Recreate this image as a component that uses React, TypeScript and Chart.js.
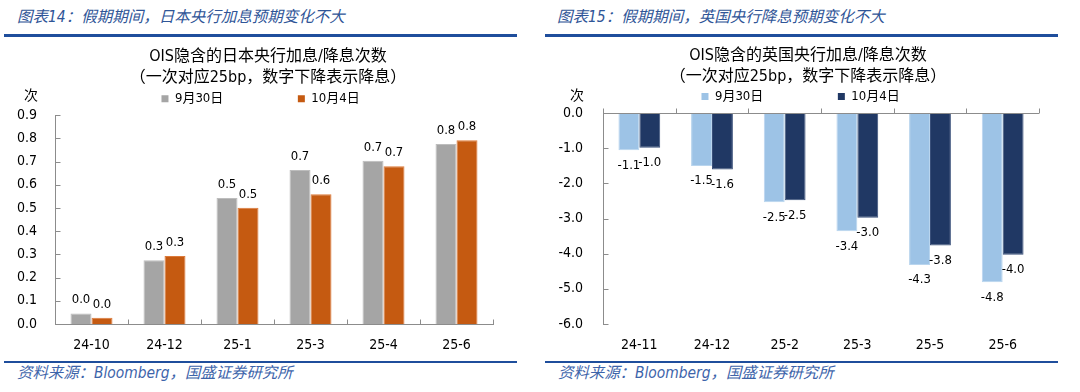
import React, { useEffect, useRef } from "react";
import { Chart, registerables } from "chart.js";

Chart.register(...registerables);

// ---------------- Data ----------------
const jpCategories = ["24-10", "24-12", "25-1", "25-3", "25-4", "25-6"];
const jpSep30 = [0.045, 0.275, 0.543, 0.664, 0.704, 0.776];
const jpOct4 = [0.027, 0.293, 0.501, 0.559, 0.68, 0.792];
const jpAxisMin = 0;
const jpAxisMax = 0.9;
const jpAxisStep = 0.1;

const ukCategories = ["24-11", "24-12", "25-2", "25-3", "25-5", "25-6"];
const ukSep30 = [-1.06, -1.51, -2.54, -3.36, -4.32, -4.81];
const ukOct4 = [-0.99, -1.61, -2.48, -2.98, -3.77, -4.03];
const ukAxisMin = -6;
const ukAxisMax = 0;
const ukAxisStep = 1;

const seriesNames = ["9月30日", "10月4日"];
const unitLabel = "次";

const jpHeader = "图表14：假期期间，日本央行加息预期变化不大";
const ukHeader = "图表15：假期期间，英国央行降息预期变化不大";
const jpTitle = "OIS隐含的日本央行加息/降息次数";
const ukTitle = "OIS隐含的英国央行加息/降息次数";
const subTitle = "（一次对应25bp，数字下降表示降息）";
const sourceText = "资料来源：Bloomberg，国盛证券研究所";

// ---------------- Styles ----------------
const FONT = '"DejaVu Sans Condensed", "DejaVu Sans", "Noto Sans CJK SC", sans-serif';
const CJK = '"Noto Sans CJK SC", sans-serif';
const HEADER_BLUE = "#2F5597";
const LINE_BLUE = "#1F4E9C";
const AXIS = "#8C8C8C";
const legendTrail = [" ".repeat(19), " ".repeat(4)];

const valueLabelPlugin = {
  id: "valueLabels",
  afterDatasetsDraw(chart: any, _args: any, opts: any) {
    const ctx = chart.ctx;
    ctx.save();
    ctx.font = `${opts.size}px ${FONT}`;
    ctx.fillStyle = opts.color;
    ctx.textAlign = "center";
    ctx.textBaseline = "middle";
    chart.data.datasets.forEach((ds: any, di: number) => {
      const meta = chart.getDatasetMeta(di);
      meta.data.forEach((el: any, i: number) => {
        const v = ds.data[i] as number;
        const y = v >= 0 ? el.y - opts.gap : el.y + opts.gap;
        ctx.fillText(v.toFixed(1), el.x, y);
      });
    });
    ctx.restore();
  },
};

const axisMarksPlugin = {
  id: "axisMarks",
  afterDraw(chart: any, _args: any, opts: any) {
    const ctx = chart.ctx;
    const a = chart.chartArea;
    const x = chart.scales.x;
    const y = chart.scales.y;
    ctx.save();
    ctx.strokeStyle = opts.color;
    ctx.lineWidth = 1;
    ctx.beginPath();
    const L = opts.len;
    const ax = Math.round(a.left) + 0.5;
    y.ticks.forEach((_t: any, i: number) => {
      const py = Math.round(y.getPixelForTick(i)) + 0.5;
      ctx.moveTo(ax, py);
      ctx.lineTo(ax + L, py);
    });
    const baseY = Math.round(y.getPixelForValue(opts.baseValue)) + 0.5;
    const n = x.ticks.length;
    for (let i = 0; i <= n; i++) {
      const px = Math.round(x.left + ((x.right - x.left) * i) / n) + 0.5;
      ctx.moveTo(px, baseY);
      ctx.lineTo(px, baseY - L);
    }
    if (opts.drawBaseLine) {
      ctx.moveTo(a.left, baseY);
      ctx.lineTo(a.right, baseY);
    }
    ctx.stroke();
    ctx.fillStyle = "#000";
    ctx.font = `14px ${CJK}`;
    ctx.textAlign = "right";
    ctx.textBaseline = "middle";
    ctx.fillText(opts.unit, a.left - opts.unitPad, a.top - opts.unitRise);
    ctx.restore();
  },
};

type PanelSpec = {
  categories: string[];
  a: number[];
  b: number[];
  colorsA: [string, string];
  colorsB: [string, string];
  title: string;
  min: number;
  max: number;
  step: number;
  padLeft: number;
  padRight: number;
  yWidth: number;
  y2Width: number;
  yPad: number;
  titleTop: number;
  subTop: number;
  subBottom: number;
  negative: boolean;
};

function makeConfig(s: PanelSpec): any {
  const tickFont = { family: FONT, size: 14 };
  return {
    type: "bar",
    data: {
      labels: s.categories,
      datasets: [
        {
          label: seriesNames[0],
          data: s.a,
          backgroundColor: s.colorsA[0],
          borderColor: s.colorsA[1],
          borderWidth: 1,
          barPercentage: 1,
          categoryPercentage: 0.575,
        },
        {
          label: seriesNames[1],
          data: s.b,
          backgroundColor: s.colorsB[0],
          borderColor: s.colorsB[1],
          borderWidth: 1,
          barPercentage: 1,
          categoryPercentage: 0.575,
        },
      ],
    },
    options: {
      responsive: false,
      animation: false,
      devicePixelRatio: 1,
      layout: { padding: { left: s.padLeft, right: s.padRight, top: 0, bottom: 0 } },
      plugins: {
        title: {
          display: true,
          text: s.title,
          color: "#000",
          font: { family: FONT, size: 16, weight: "normal" },
          padding: { top: s.titleTop, bottom: 0 },
        },
        subtitle: {
          display: true,
          text: subTitle,
          color: "#000",
          font: { family: FONT, size: 16, weight: "normal" },
          padding: { top: s.subTop, bottom: s.subBottom },
        },
        legend: {
          display: true,
          position: "top",
          labels: {
            boxWidth: 7,
            boxHeight: 7,
            padding: 4,
            color: "#000",
            font: { family: FONT, size: 13 },
            generateLabels(chart: any) {
              const items = (Chart.defaults as any).plugins.legend.labels.generateLabels(chart);
              return items.map((it: any, i: number) => ({
                ...it,
                text: it.text + legendTrail[i],
                lineWidth: 0,
              }));
            },
          },
        },
        tooltip: { enabled: false },
        valueLabels: { size: 13, color: "#000", gap: s.negative ? 15 : 13.5 },
        axisMarks: {
          color: AXIS,
          len: 5,
          baseValue: 0,
          drawBaseLine: s.negative,
          unit: unitLabel,
          unitPad: s.yPad - 1,
          unitRise: s.negative ? 18.5 : 21,
        },
      },
      scales: {
        x: {
          grid: { display: false, drawTicks: false },
          border: { display: !s.negative, color: AXIS, width: 1 },
          ticks: { font: tickFont, color: "#000", padding: 12.6, maxRotation: 0, autoSkip: false },
        },
        y: {
          min: s.min,
          max: s.max,
          grid: { display: false, drawTicks: false },
          border: { display: true, color: AXIS, width: 1 },
          ticks: {
            stepSize: s.step,
            font: tickFont,
            color: "#000",
            padding: s.yPad,
            callback: (v: any) => Number(v).toFixed(1),
          },
          afterFit: (scale: any) => {
            scale.width = s.yWidth;
          },
        },
        y2: {
          position: "right",
          display: true,
          grid: { display: false, drawTicks: false },
          border: { display: false },
          ticks: { display: false },
          afterFit: (scale: any) => {
            scale.width = s.y2Width;
          },
        },
      },
    },
    plugins: [valueLabelPlugin, axisMarksPlugin],
  };
}

function ChartCanvas({ left, spec }: { left: number; spec: PanelSpec }) {
  const ref = useRef<HTMLCanvasElement>(null);
  useEffect(() => {
    const chart = new Chart(ref.current as HTMLCanvasElement, makeConfig(spec));
    return () => chart.destroy();
  }, []);
  return (
    <canvas
      ref={ref}
      width={540}
      height={326}
      style={{ position: "absolute", left, top: 40, width: 540, height: 326 }}
    />
  );
}

const jpSpec: PanelSpec = {
  categories: jpCategories,
  a: jpSep30,
  b: jpOct4,
  colorsA: ["#A5A5A5", "#BDBDBD"],
  colorsB: ["#C55A11", "#DD7A3A"],
  title: jpTitle,
  min: jpAxisMin,
  max: jpAxisMax,
  step: jpAxisStep,
  padLeft: 15,
  padRight: 19,
  yWidth: 40,
  y2Width: 28,
  yPad: 18,
  titleTop: 7.1,
  subTop: 1.9,
  subBottom: 0.8,
  negative: false,
};

const ukSpec: PanelSpec = {
  categories: ukCategories,
  a: ukSep30,
  b: ukOct4,
  colorsA: ["#9DC3E6", "#B9D5EE"],
  colorsB: ["#203864", "#3A507A"],
  title: ukTitle,
  min: ukAxisMin,
  max: ukAxisMax,
  step: ukAxisStep,
  padLeft: 15,
  padRight: 19,
  yWidth: 48,
  y2Width: 22,
  yPad: 20,
  titleTop: 6.1,
  subTop: 1.5,
  subBottom: 0,
  negative: true,
};

const headerStyle: React.CSSProperties = {
  position: "absolute",
  top: 6.5,
  fontSize: 15.5,
  lineHeight: "20px",
  fontStyle: "italic",
  fontFamily: FONT,
  color: HEADER_BLUE,
  whiteSpace: "nowrap",
};

const sourceStyle: React.CSSProperties = {
  position: "absolute",
  top: 362.5,
  fontSize: 15.4,
  lineHeight: "20px",
  fontStyle: "italic",
  fontFamily: FONT,
  color: "#3D64AA",
  whiteSpace: "nowrap",
};

function Rule({ left, top, width, height }: { left: number; top: number; width: number; height: number }) {
  return <div style={{ position: "absolute", left, top, width, height, background: LINE_BLUE }} />;
}

export default function App() {
  return (
    <div
      style={{
        position: "absolute",
        left: 0,
        top: 0,
        width: 1080,
        height: 392,
        background: "#fff",
        overflow: "hidden",
      }}
    >
      <div style={{ ...headerStyle, left: 17 }}>{jpHeader}</div>
      <div style={{ ...headerStyle, left: 557 }}>{ukHeader}</div>
      <Rule left={4} top={34} width={513} height={2.5} />
      <Rule left={545} top={34} width={513} height={2.5} />
      <Rule left={4} top={360.8} width={513} height={2} />
      <Rule left={545} top={360.8} width={513} height={2} />
      <div style={{ ...sourceStyle, left: 17 }}>{sourceText}</div>
      <div style={{ ...sourceStyle, left: 558 }}>{sourceText}</div>
      <ChartCanvas left={0} spec={jpSpec} />
      <ChartCanvas left={540} spec={ukSpec} />
    </div>
  );
}
